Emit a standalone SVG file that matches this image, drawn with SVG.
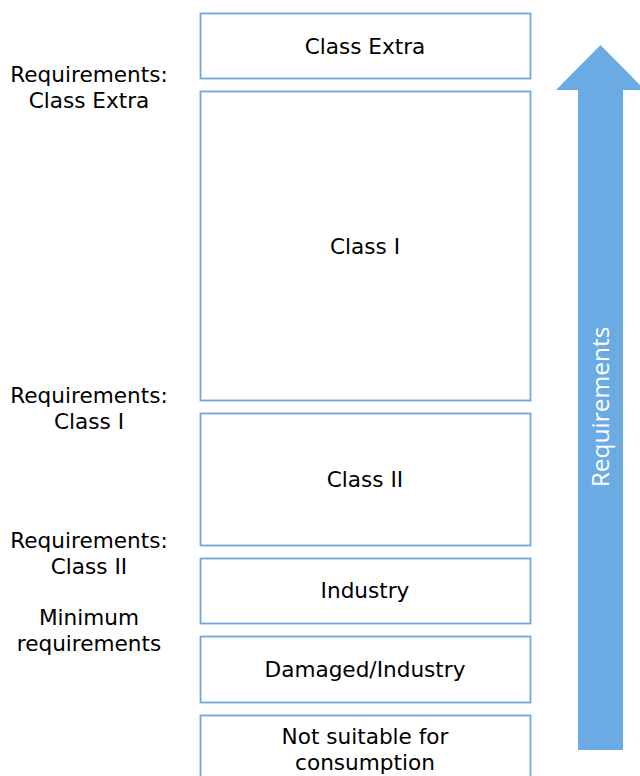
<svg xmlns="http://www.w3.org/2000/svg" width="640" height="776" viewBox="0 0 640 776">
<style>
.box{fill:#fff;stroke:#72a6d9;stroke-width:1.8}
.t{font-family:"DejaVu Sans",Verdana,sans-serif;font-size:21.6px;fill:#000;text-anchor:middle}
.arr{fill:#6aabe4}
.at{font-family:"Open Sans",sans-serif;font-size:24.5px;fill:#fff;text-anchor:middle}
</style>
<rect width="640" height="776" fill="#fff"/>
<g id="class-extra"><rect class="box" x="200.5" y="13.5" width="330" height="65"/><text class="t" x="365" y="54">Class Extra</text></g>
<g id="class-i"><rect class="box" x="200.5" y="91.5" width="330" height="309"/><text class="t" x="365" y="254">Class I</text></g>
<g id="class-ii"><rect class="box" x="200.5" y="413.5" width="330" height="132"/><text class="t" x="365" y="487">Class II</text></g>
<g id="industry"><rect class="box" x="200.5" y="558.5" width="330" height="65"/><text class="t" x="365" y="598">Industry</text></g>
<g id="damaged"><rect class="box" x="200.5" y="636.5" width="330" height="66"/><text class="t" x="365" y="677">Damaged/Industry</text></g>
<g id="not-suitable"><rect class="box" x="200.5" y="715.5" width="330" height="70"/><text class="t" x="365" y="744">Not suitable for</text><text class="t" x="365" y="770">consumption</text></g>
<g id="labels">
<text class="t" x="89" y="82">Requirements:</text><text class="t" x="89" y="108">Class Extra</text>
<text class="t" x="89" y="403">Requirements:</text><text class="t" x="89" y="429">Class I</text>
<text class="t" x="89" y="548">Requirements:</text><text class="t" x="89" y="574">Class II</text>
<text class="t" x="89" y="625">Minimum</text><text class="t" x="89" y="651">requirements</text>
</g>
<g id="connectors">
<g id="requirements-arrow"><polygon class="arr" points="578,750 623,750 623,90 645,90 600.5,45 556,90 578,90"/>
<text class="at" transform="translate(609,407) rotate(-90)">Requirements</text></g>
</g>
</svg>
